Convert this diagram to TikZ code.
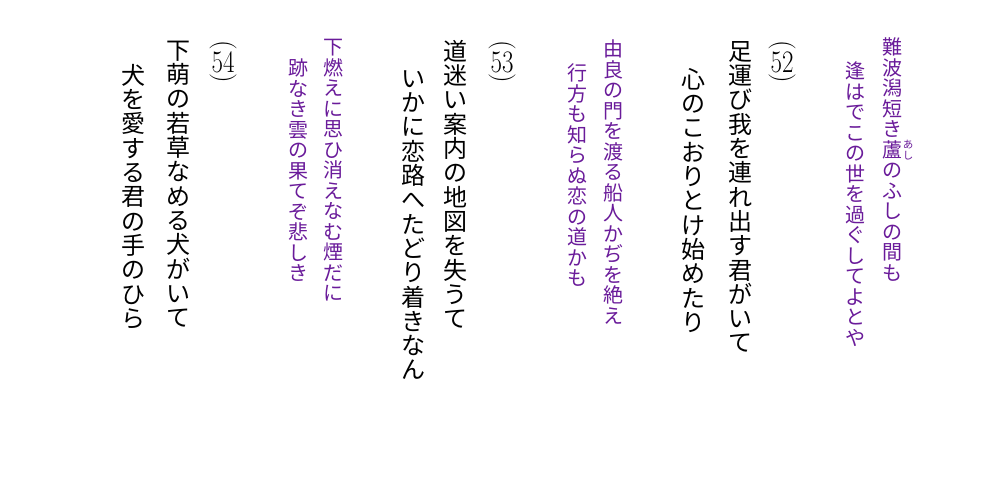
\documentclass[tikz,border=0pt]{standalone}
\usepackage{fontspec}
\newfontfamily\jp{Noto Sans CJK JP}
\definecolor{poemPurple}{RGB}{106,27,154}
\def\vstackaux#1{\ifx\relax#1\else\hbox to 1.2em{\hss\vrule height .88em depth .12em width 0pt\relax#1\hss}\expandafter\vstackaux\fi}
\newcommand\vstack[2]{\vbox{\baselineskip=#1\lineskiplimit=-100pt\lineskip=0pt\vstackaux#2\relax}}
\newcommand\tallnum[1]{\scalebox{1}[1.25]{#1}}
\tikzset{
  blackcol/.style={font=\jp\fontsize{24pt}{24pt}\selectfont, text=black, inner sep=0pt, anchor=north},
  purplecol/.style={font=\jp\fontsize{20pt}{20pt}\selectfont, text=poemPurple, inner sep=0pt, anchor=north},
  rubytext/.style={font=\jp\fontsize{10.5pt}{10.5pt}\selectfont, text=poemPurple, inner sep=0pt, anchor=center},
  numtext/.style={font=\fontsize{25pt}{25pt}\selectfont, text=black, inner sep=0pt, anchor=center},
  parentext/.style={font=\fontsize{27pt}{27pt}\selectfont, text=black, inner sep=0pt, anchor=center}
}
\begin{document}
\begin{tikzpicture}[x=1pt,y=-1pt]
\fill[white] (0,0) rectangle (1000,485);
\useasboundingbox (0,0) rectangle (1000,485);
% poem 1 (purple)
\node[purplecol] (p1a) at (892,37) {\vstack{1.025em}{難波潟短き蘆のふしの間も}};
\node[purplecol] (p1b) at (855,61) {\vstack{1.025em}{逢はでこの世を過ぐしてよとや}};
\node[rubytext] (ruby) at (908,150) {\vstack{1.0em}{あし}};
% (52)
\node[parentext] (o52) at (782,45.5) {\rotatebox{-90}{(}};
\node[numtext] (n52) at (782,62.5) {\tallnum{52}};
\node[parentext] (c52) at (782,78.5) {\rotatebox{-90}{)}};
\node[blackcol] (b1a) at (740,39) {\vstack{1.0125em}{足運び我を連れ出す君がいて}};
\node[blackcol] (b1b) at (693,67) {\vstack{1.0125em}{心のこおりとけ始めたり}};
% poem 2 (purple)
\node[purplecol] (p2a) at (613,39) {\vstack{1.025em}{由良の門を渡る船人かぢを絶え}};
\node[purplecol] (p2b) at (577,63) {\vstack{1.025em}{行方も知らぬ恋の道かも}};
% (53)
\node[parentext] (o53) at (502,45.5) {\rotatebox{-90}{(}};
\node[numtext] (n53) at (502,62.5) {\tallnum{53}};
\node[parentext] (c53) at (502,78.5) {\rotatebox{-90}{)}};
\node[blackcol] (b2a) at (455,39) {\vstack{1.0125em}{道迷い案内の地図を失うて}};
\node[blackcol] (b2b) at (413,66) {\vstack{1.0125em}{いかに恋路へたどり着きなん}};
% poem 3 (purple)
\node[purplecol] (p3a) at (333,37) {\vstack{1.025em}{下燃えに思ひ消えなむ煙だに}};
\node[purplecol] (p3b) at (298,58) {\vstack{1.025em}{跡なき雲の果てぞ悲しき}};
% (54)
\node[parentext] (o54) at (223,45.5) {\rotatebox{-90}{(}};
\node[numtext] (n54) at (223,62.5) {\tallnum{54}};
\node[parentext] (c54) at (223,78.5) {\rotatebox{-90}{)}};
\node[blackcol] (b3a) at (178,38) {\vstack{1.0125em}{下萌の若草なめる犬がいて}};
\node[blackcol] (b3b) at (133,63) {\vstack{1.0125em}{犬を愛する君の手のひら}};
\end{tikzpicture}
\end{document}
